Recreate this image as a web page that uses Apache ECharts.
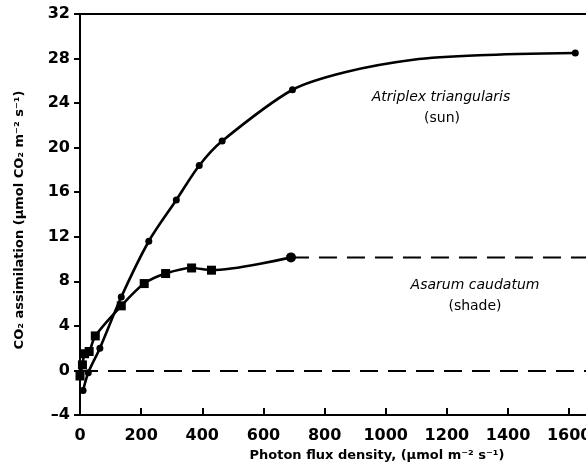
<!DOCTYPE html>
<html>
<head>
<meta charset="utf-8">
<script src="https://cdn.jsdelivr.net/npm/echarts@6/dist/echarts.min.js"></script>
<style>
  html, body { margin: 0; padding: 0; background: #fff; }
  #chart { width: 586px; height: 469px; }
</style>
</head>
<body>
<div id="chart"></div>
<script>
// light response curves, sun vs shade plant
// measured points (drawn with markers)
const sunX = [10, 27, 65, 135, 225, 315, 390, 465, 695, 1620];
const sunY = [-1.8, -0.2, 2.0, 6.6, 11.6, 15.3, 18.4, 20.6, 25.2, 28.5];
// fitted curve read off the figure between the last two measurements (no markers)
const sunCurveX = [870, 1090, 1305];
const sunCurveY = [26.8, 27.9, 28.3];

const shadeX = [0, 8, 15, 30, 50, 135, 210, 280, 365, 430, 690];
const shadeY = [-0.5, 0.5, 1.5, 1.7, 3.1, 5.8, 7.8, 8.7, 9.2, 9.0, 10.15];

const shadePlateauX = [690, 1655];
const shadePlateauY = [10.15, 10.15];

const yTicks = [-4, 0, 4, 8, 12, 16, 20, 24, 28, 32];
const xTicks = [0, 200, 400, 600, 800, 1000, 1200, 1400, 1600];

const FONT = 'DejaVu Sans';

const sunData = sunX.map((x, i) => ({ value: [x, sunY[i]] }))
    .concat(sunCurveX.map((x, i) => ({ value: [x, sunCurveY[i]], symbol: 'none' })))
    .sort((a, b) => a.value[0] - b.value[0]);
const shadeData = shadeX.map((x, i) => {
    const item = { value: [x, shadeY[i]] };
    if (i === shadeX.length - 1) { item.symbol = 'circle'; item.symbolSize = 10; }
    return item;
});
const plateauData = shadePlateauX.map((x, i) => [x, shadePlateauY[i]]);

const chart = echarts.init(document.getElementById('chart'));
chart.setOption({
    backgroundColor: '#fff',
    animation: false,
    grid: { left: 80, right: 0, top: 14, bottom: 54, outerBoundsMode: 'none', containLabel: false },
    xAxis: [{
        type: 'value', min: 0, max: 1655, interval: 200,
        axisLine: { show: true, onZero: false, lineStyle: { color: '#000', width: 2 } },
        axisTick: { show: true, inside: true, length: 7, lineStyle: { color: '#000', width: 2 } },
        splitLine: { show: false },
        axisLabel: {
            color: '#000', fontFamily: FONT, fontWeight: 'bold', fontSize: 16, margin: 13,
            showMaxLabel: false,
            formatter: v => xTicks.includes(v) ? String(v) : ''
        }
    }, {
        // top frame line only
        type: 'value', position: 'top', min: 0, max: 1655,
        axisLine: { show: true, onZero: false, lineStyle: { color: '#000', width: 2 } },
        axisTick: { show: false }, axisLabel: { show: false }, splitLine: { show: false }
    }],
    yAxis: {
        type: 'value', min: -4, max: 32, interval: 4,
        axisLine: { show: true, onZero: false, lineStyle: { color: '#000', width: 2 } },
        axisTick: { show: true, inside: false, length: 6, lineStyle: { color: '#000', width: 2 } },
        splitLine: { show: false },
        axisLabel: {
            color: '#000', fontFamily: FONT, fontWeight: 'bold', fontSize: 16, margin: 10,
            formatter: v => yTicks.includes(v) ? String(v).replace('-', '–') : ''
        }
    },
    series: [
        {
            name: 'Atriplex triangularis', type: 'line', data: sunData,
            smooth: 0.3, symbol: 'circle', symbolSize: 7, clip: false,
            lineStyle: { color: '#000', width: 2.6 }, itemStyle: { color: '#000' },
            markLine: {
                silent: true, symbol: 'none', label: { show: false },
                lineStyle: { color: '#000', width: 2, type: [18, 10] },
                data: [{ yAxis: 0 }]
            }
        },
        {
            name: 'Asarum caudatum', type: 'line', data: shadeData,
            smooth: 0.3, symbol: 'rect', symbolSize: 9, clip: false,
            lineStyle: { color: '#000', width: 2.6 }, itemStyle: { color: '#000' }
        },
        {
            name: 'shade plateau', type: 'line', data: plateauData,
            symbol: 'none', lineStyle: { color: '#000', width: 2, type: [18, 10] }
        }
    ],
    graphic: [
        { type: 'text', x: 441, y: 97, style: { text: 'Atriplex triangularis', font: 'italic 14px "DejaVu Sans"', fill: '#000', textAlign: 'center', textVerticalAlign: 'middle' } },
        { type: 'text', x: 442, y: 118, style: { text: '(sun)', font: '14px "DejaVu Sans"', fill: '#000', textAlign: 'center', textVerticalAlign: 'middle' } },
        { type: 'text', x: 475, y: 285, style: { text: 'Asarum caudatum', font: 'italic 14px "DejaVu Sans"', fill: '#000', textAlign: 'center', textVerticalAlign: 'middle' } },
        { type: 'text', x: 475, y: 306, style: { text: '(shade)', font: '14px "DejaVu Sans"', fill: '#000', textAlign: 'center', textVerticalAlign: 'middle' } },
        { type: 'text', x: 377, y: 456, style: { text: 'Photon flux density, (µmol m⁻² s⁻¹)', font: 'bold 13px "DejaVu Sans"', fill: '#000', textAlign: 'center', textVerticalAlign: 'middle' } },
        { type: 'text', x: 20, y: 220, rotation: Math.PI / 2, style: { text: 'CO₂ assimilation (µmol CO₂ m⁻² s⁻¹)', font: 'bold 13px "DejaVu Sans"', fill: '#000', textAlign: 'center', textVerticalAlign: 'middle' } }
    ]
});
</script>
</body>
</html>
